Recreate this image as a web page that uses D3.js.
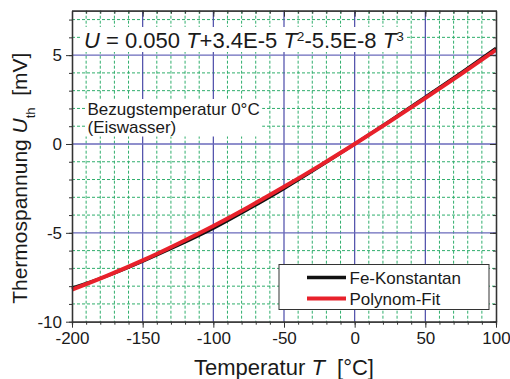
<!DOCTYPE html>
<html>
<head>
<meta charset="utf-8">
<script src="https://cdn.jsdelivr.net/npm/d3@7"></script>
<style>
  html, body { margin: 0; padding: 0; background: #fff; }
  svg { display: block; font-family: "Liberation Sans", Arial, sans-serif; }
  text { white-space: pre; }
</style>
</head>
<body>
<svg id="chart" width="510" height="379"></svg>
<script>
// ---- data ----
const temperatures = [-200, -175, -150, -125, -100, -75, -50, -25, 0, 25, 50, 75, 100];
const feKonstantan = [-8.10, -7.42, -6.60, -5.71, -4.75, -3.66, -2.51, -1.28, 0, 1.31, 2.65, 4.00, 5.40];
const polynomFit   = [-8.20, -7.41, -6.55, -5.61, -4.61, -3.54, -2.41, -1.23, 0, 1.27, 2.58, 3.92, 5.29];
const xTickLabels = [-200, -150, -100, -50, 0, 50, 100];
const yTickLabels = [-10, -5, 0, 5];
const seriesNames = ["Fe-Konstantan", "Polynom-Fit"];
const seriesColors = ["#111111", "#e8212b"];

// ---- layout ----
const L = 72, R = 496, T = 10.7, B = 321.7;
const svg = d3.select("#chart");

const x = d3.scaleLinear().domain([-200, 100]).range([L, R]);
const y = d3.scaleLinear().domain([-10, 7.5]).range([B, T]);

const xMinor = d3.range(-200, 101, 10);
const yMinor = d3.range(-10, 7.6, 1);

// grid minor (green dashed)
const grid = svg.append("g");
grid.selectAll("line.gx").data(xMinor.filter(v => v % 50 !== 0)).join("line")
  .attr("class", "gx")
  .attr("x1", d => x(d)).attr("x2", d => x(d)).attr("y1", T).attr("y2", B)
  .attr("stroke", "#2fae6c").attr("stroke-width", 1).attr("stroke-dasharray", "3,2");
grid.selectAll("line.gy").data(yMinor.filter(v => v % 5 !== 0)).join("line")
  .attr("class", "gy")
  .attr("x1", L).attr("x2", R).attr("y1", d => y(d)).attr("y2", d => y(d))
  .attr("stroke", "#2fae6c").attr("stroke-width", 1).attr("stroke-dasharray", "3,2");

function addText(g, xPos, yPos, size, parts) {
  const t = g.append("text").attr("x", xPos).attr("y", yPos)
    .attr("font-size", size).attr("fill", "#1a1a1a");
  parts.forEach(p => {
    const ts = t.append("tspan").text(p.t);
    if (p.i) ts.attr("font-style", "italic");
    if (p.sup) ts.attr("font-size", size * 0.62).attr("baseline-shift", "super");
    if (p.sub) ts.attr("font-size", size * 0.62).attr("baseline-shift", "sub");
  });
  return t;
}

// major grid (blue)
grid.selectAll("line.bx").data(xTickLabels.filter(v => v > -200 && v < 100)).join("line")
  .attr("class", "bx")
  .attr("x1", d => x(d)).attr("x2", d => x(d)).attr("y1", T).attr("y2", B)
  .attr("stroke", "#4a4aa8").attr("stroke-width", 1.2);
grid.selectAll("line.by").data(yTickLabels.filter(v => v > -10)).join("line")
  .attr("class", "by")
  .attr("x1", L).attr("x2", R).attr("y1", d => y(d)).attr("y2", d => y(d))
  .attr("stroke", "#6a6abb").attr("stroke-width", 1.3);

// equation box
const eqG = svg.append("g");
const eqBg = eqG.append("rect").attr("fill", "#fff");
const eq = addText(eqG, 84, 48, 22, [
  {t: "U", i: true}, {t: " = 0.050 "}, {t: "T", i: true}, {t: "+3.4E-5 "},
  {t: "T", i: true}, {t: "2", sup: true}, {t: "-5.5E-8 "}, {t: "T", i: true}, {t: "3", sup: true}
]);
const eb = eq.node().getBBox();
eqBg.attr("x", eb.x - 3).attr("y", 27).attr("width", eb.width + 5).attr("height", 25);

// reference temperature box
const refG = svg.append("g");
const refBg = refG.append("rect").attr("fill", "#fff");
const r1 = refG.append("text").attr("x", 87.5).attr("y", 115).attr("font-size", 17).attr("fill", "#1a1a1a").text("Bezugstemperatur 0°C");
const r2 = refG.append("text").attr("x", 87.5).attr("y", 132.5).attr("font-size", 17).attr("fill", "#1a1a1a").text("(Eiswasser)");
const rb1 = r1.node().getBBox(), rb2 = r2.node().getBBox();
refBg.attr("x", 85).attr("y", rb1.y - 1).attr("width", Math.max(rb1.width, rb2.width) + 5)
  .attr("height", rb2.y + rb2.height - rb1.y + 1);

// curves
const line = d3.line().x(d => x(d[0])).y(d => y(d[1])).curve(d3.curveMonotoneX);
svg.append("path").datum(temperatures.map((t, i) => [t, feKonstantan[i]]))
  .attr("d", line).attr("fill", "none").attr("stroke", seriesColors[0]).attr("stroke-width", 3);
svg.append("path").datum(temperatures.map((t, i) => [t, polynomFit[i]]))
  .attr("d", line).attr("fill", "none").attr("stroke", seriesColors[1]).attr("stroke-width", 4);

// axes
function styleAxis(g) {
  g.selectAll("path.domain").attr("stroke", "#333").attr("stroke-width", 1.3);
  g.selectAll(".tick line").attr("stroke", "#333").attr("stroke-width", 1);
  g.selectAll("text").attr("font-size", 17).attr("fill", "#1a1a1a")
    .attr("font-family", "'Liberation Sans', Arial, sans-serif");
}
const fmt = d => String(d);
// bottom
svg.append("g").attr("transform", `translate(0,${B})`)
  .call(d3.axisBottom(x).tickValues(xMinor).tickSize(3).tickFormat("")).call(styleAxis);
svg.append("g").attr("transform", `translate(0,${B})`)
  .call(d3.axisBottom(x).tickValues(xTickLabels).tickSize(6).tickSizeOuter(0).tickPadding(4).tickFormat(fmt))
  .call(styleAxis);
// top
svg.append("g").attr("transform", `translate(0,${T})`)
  .call(d3.axisBottom(x).tickValues(xMinor).tickSize(3).tickSizeOuter(0).tickFormat("")).call(styleAxis);
svg.append("g").attr("transform", `translate(0,${T})`)
  .call(d3.axisBottom(x).tickValues(xTickLabels).tickSize(6).tickSizeOuter(0).tickFormat("")).call(styleAxis);
// left
svg.append("g").attr("transform", `translate(${L},0)`)
  .call(d3.axisLeft(y).tickValues(yMinor).tickSize(3).tickSizeOuter(0).tickFormat("")).call(styleAxis);
svg.append("g").attr("transform", `translate(${L},0)`)
  .call(d3.axisLeft(y).tickValues(yTickLabels).tickSize(6).tickSizeOuter(0).tickPadding(4).tickFormat(fmt))
  .call(styleAxis);
// right
svg.append("g").attr("transform", `translate(${R},0)`)
  .call(d3.axisLeft(y).tickValues(yMinor).tickSize(3).tickSizeOuter(0).tickFormat("")).call(styleAxis);
svg.append("g").attr("transform", `translate(${R},0)`)
  .call(d3.axisLeft(y).tickValues(yTickLabels).tickSize(6).tickSizeOuter(0).tickFormat("")).call(styleAxis);

// legend
const lg = svg.append("g");
lg.append("rect").attr("x", 279).attr("y", 264.5).attr("width", 210).attr("height", 45)
  .attr("fill", "#fff").attr("stroke", "#333").attr("stroke-width", 1);
seriesNames.forEach((name, i) => {
  const yy = 277.5 + i * 21;
  lg.append("line").attr("x1", 307).attr("x2", 346).attr("y1", yy).attr("y2", yy)
    .attr("stroke", seriesColors[i]).attr("stroke-width", i === 0 ? 3.5 : 4);
  lg.append("text").attr("x", 349.5).attr("y", yy + 6).attr("font-size", 17).attr("fill", "#1a1a1a").text(name);
});

// axis titles
addText(svg, (L + R) / 2, 375, 22, [{t: "Temperatur "}, {t: "T", i: true}, {t: "  [°C]"}])
  .attr("text-anchor", "middle");
addText(svg, 0, 0, 21, [{t: "Thermospannung "}, {t: "U", i: true}, {t: "th", sub: true}, {t: "  [mV]"}])
  .attr("text-anchor", "middle").attr("transform", `translate(27,${(T + B) / 2 + 12}) rotate(-90)`);
</script>
</body>
</html>
